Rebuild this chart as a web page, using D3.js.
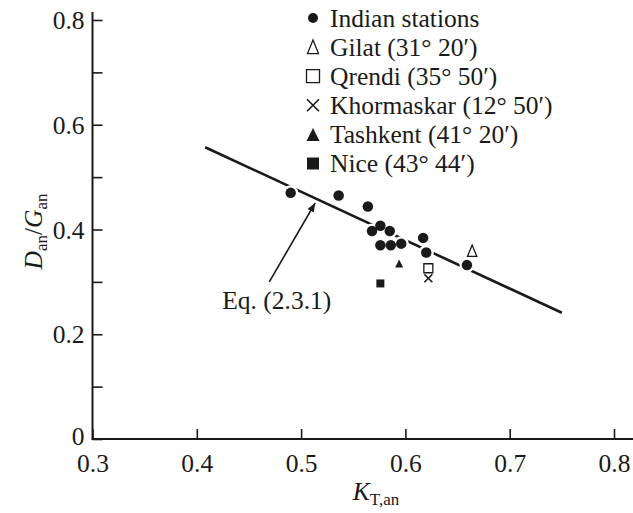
<!DOCTYPE html>
<html>
<head>
<meta charset="utf-8">
<script src="https://cdn.jsdelivr.net/npm/d3@7"></script>
<style>
  body { margin: 0; background: #fff; }
</style>
</head>
<body>
<div id="chart"></div>
<script>
// Indian stations (filled circles)
const indianKT = [0.490, 0.536, 0.564, 0.576, 0.568, 0.585, 0.576, 0.586, 0.596, 0.617, 0.620, 0.659];
const indianRatio = [0.470, 0.465, 0.444, 0.407, 0.397, 0.397, 0.370, 0.370, 0.373, 0.384, 0.356, 0.332];

// other stations, one point each
const stationNames = ["Gilat (31° 20′)", "Qrendi (35° 50′)", "Khormaskar (12° 50′)", "Tashkent (41° 20′)", "Nice (43° 44′)"];
const stationKT = [0.664, 0.622, 0.622, 0.594, 0.576];
const stationRatio = [0.359, 0.326, 0.307, 0.335, 0.297];
const stationSymbols = ["openTri", "openSq", "cross", "fillTri", "fillSq"];

const legendLabels = ["Indian stations"].concat(stationNames);
const legendSymbols = ["dot"].concat(stationSymbols);

// Eq. (2.3.1) line end points
const fitKT = [0.408, 0.750];
const fitRatio = [0.557, 0.241];

// arrow annotation (tail -> tip), data coords
const arrowKT = [0.4695, 0.5135];
const arrowRatio = [0.300, 0.4506];

const xTicks = [0.3, 0.4, 0.5, 0.6, 0.7, 0.8];
const yTicks = [0, 0.1, 0.2, 0.3, 0.4, 0.5, 0.6, 0.7, 0.8];

const W = 633, H = 513;
const FONT = "'Liberation Serif', 'Times New Roman', 'DejaVu Serif', serif";
const x = d3.scaleLinear().domain([0.3, 0.8]).range([92.5, 614]);
const y = d3.scaleLinear().domain([0, 0.8]).range([439, 20]);

const svg = d3.select("#chart").append("svg")
  .attr("width", W).attr("height", H)
  .style("font-family", FONT);

const ink = "#1a1a1a";

// marker paths centred on 0,0
function markerPath(kind, s) {
  const h = s / 2;
  if (kind === "openTri") return `M0,${-h*1.1}L${h*0.85},${h}L${-h*0.85},${h}Z`;
  if (kind === "fillTri") return `M0,${-h}L${h},${h}L${-h},${h}Z`;
  if (kind === "openSq" || kind === "fillSq") return `M${-h},${-h}H${h}V${h}H${-h}Z`;
  if (kind === "cross") return `M${-h},${-h}L${h},${h}M${h},${-h}L${-h},${h}`;
  return null;
}
function drawMarker(g, kind, cx, cy, s) {
  if (kind === "dot") {
    g.append("circle").attr("cx", cx).attr("cy", cy).attr("r", s / 2).attr("fill", ink);
    return;
  }
  const open = kind === "openTri" || kind === "openSq";
  g.append("path")
    .attr("d", markerPath(kind, s))
    .attr("transform", `translate(${cx},${cy})`)
    .attr("fill", open || kind === "cross" ? "none" : ink)
    .attr("stroke", kind === "fillTri" || kind === "fillSq" ? "none" : ink)
    .attr("stroke-width", kind === "cross" ? 1.6 : 1.3);
}

function serif(sel) {
  sel.style("font-family", FONT).attr("fill", ink);
  return sel;
}

// axes
const yAxis = d3.axisLeft(y).tickValues(yTicks).tickSize(-10).tickPadding(18)
  .tickFormat(d => Math.round(d * 10) % 2 ? "" : (d === 0 ? "0" : d.toFixed(1)));
const gy = svg.append("g").attr("transform", `translate(${x(0.3)},0)`).call(yAxis);
gy.attr("font-family", null);
gy.select(".domain").remove();
gy.selectAll(".tick line").attr("stroke", ink).attr("stroke-width", 1.6);
serif(gy.selectAll(".tick text")).attr("font-size", 25.5).attr("x", -8)
  .attr("dy", d => d === 0 ? "0.22em" : "0.34em");

const xAxis = d3.axisBottom(x).tickValues(xTicks).tickSize(-10).tickFormat(d3.format(".1f"));
const gx = svg.append("g").attr("transform", `translate(0,${y(0)})`).call(xAxis);
gx.attr("font-family", null);
gx.select(".domain").remove();
gx.selectAll(".tick line").attr("stroke", ink).attr("stroke-width", 1.6);
serif(gx.selectAll(".tick text")).attr("font-size", 25.5).attr("y", 33).attr("dy", 0);

svg.append("line")
  .attr("x1", x(0.3)).attr("x2", x(0.3))
  .attr("y1", y(0)).attr("y2", y(0.8) - 8)
  .attr("stroke", ink).attr("stroke-width", 2);
svg.append("line")
  .attr("x1", x(0.3) - 1).attr("x2", W)
  .attr("y1", y(0)).attr("y2", y(0))
  .attr("stroke", ink).attr("stroke-width", 2);

// axis titles
const yt = serif(svg.append("text"))
  .attr("transform", `translate(42,${y(0.4) + 2}) rotate(-90)`)
  .attr("text-anchor", "middle").attr("font-size", 25.5);
yt.append("tspan").attr("font-style", "italic").text("D");
yt.append("tspan").attr("font-size", 17).attr("dy", 5).text("an");
yt.append("tspan").attr("dy", -5).text("/");
yt.append("tspan").attr("font-style", "italic").text("G");
yt.append("tspan").attr("font-size", 17).attr("dy", 5).text("an");

const xt = serif(svg.append("text"))
  .attr("x", 376).attr("y", 500)
  .attr("text-anchor", "middle").attr("font-size", 25.5);
xt.append("tspan").attr("font-style", "italic").text("K");
xt.append("tspan").attr("font-size", 17).attr("dy", 5).text("T,an");

// fitted line
svg.append("line")
  .attr("x1", x(fitKT[0])).attr("y1", y(fitRatio[0]))
  .attr("x2", x(fitKT[1])).attr("y2", y(fitRatio[1]))
  .attr("stroke", ink).attr("stroke-width", 2.6);

// arrow + label
svg.append("defs").append("marker")
  .attr("id", "head").attr("viewBox", "0 0 10 10")
  .attr("refX", 10).attr("refY", 5)
  .attr("markerWidth", 9).attr("markerHeight", 9)
  .attr("markerUnits", "userSpaceOnUse").attr("orient", "auto")
  .append("path").attr("d", "M0,1L10,5L0,9Z").attr("fill", ink);
svg.append("line")
  .attr("x1", x(arrowKT[0])).attr("y1", y(arrowRatio[0]))
  .attr("x2", x(arrowKT[1])).attr("y2", y(arrowRatio[1]))
  .attr("stroke", ink).attr("stroke-width", 1.6)
  .attr("marker-end", "url(#head)");
serif(svg.append("text"))
  .attr("x", x(arrowKT[0]) - 47).attr("y", y(arrowRatio[0]) + 27)
  .attr("font-size", 25.5).text("Eq. (2.3.1)");

// points: white halo first so the line breaks around markers
const pts = svg.append("g");
indianKT.forEach((k, i) => {
  pts.append("circle").attr("cx", x(k)).attr("cy", y(indianRatio[i])).attr("r", 7.5).attr("fill", "#fff");
});
indianKT.forEach((k, i) => drawMarker(pts, "dot", x(k), y(indianRatio[i]), 10.5));

const plotSizes = { openTri: 11, openSq: 9, cross: 8, fillTri: 8, fillSq: 8 };
stationKT.forEach((k, i) => {
  drawMarker(pts, stationSymbols[i], x(k), y(stationRatio[i]), plotSizes[stationSymbols[i]]);
});

// legend
const legSizes = { dot: 10, openTri: 13, openSq: 13, cross: 12, fillTri: 13, fillSq: 12 };
const leg = svg.append("g");
legendLabels.forEach((lab, i) => {
  const cy = 18 + i * 29.1;
  drawMarker(leg, legendSymbols[i], 313, cy, legSizes[legendSymbols[i]]);
  serif(leg.append("text")).attr("x", 330).attr("y", cy).attr("dy", "0.34em")
    .attr("font-size", 25.5).text(lab);
});
</script>
</body>
</html>
